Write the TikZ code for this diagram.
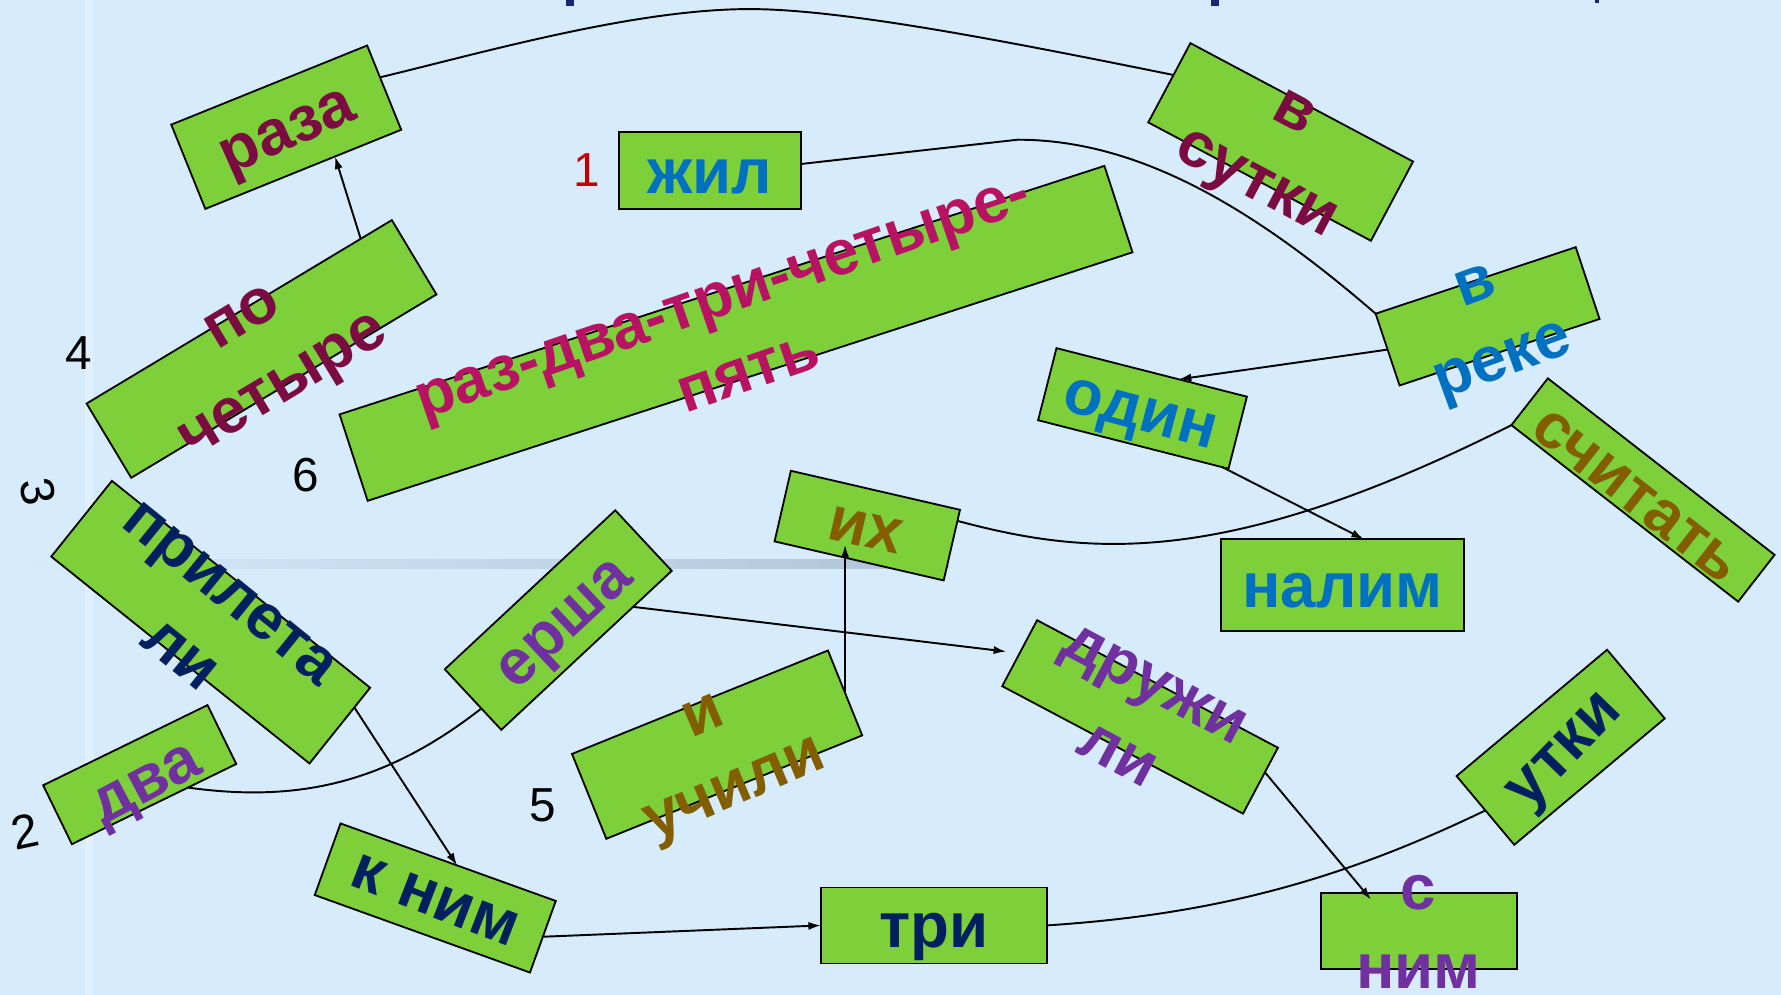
\documentclass[tikz,border=0pt]{standalone}
\usepackage{fontspec}
\setmainfont{Liberation Sans}
\usetikzlibrary{arrows.meta,calc}
\definecolor{bgc}{RGB}{214,235,252}
\definecolor{bandc}{RGB}{224,241,254}
\definecolor{barc}{RGB}{176,196,216}
\definecolor{boxg}{RGB}{126,208,59}
\definecolor{cmaroon}{RGB}{122,12,66}
\definecolor{cmagenta}{RGB}{184,18,98}
\definecolor{cblue}{RGB}{0,112,192}
\definecolor{cnavy}{RGB}{0,32,96}
\definecolor{cpurple}{RGB}{112,48,160}
\definecolor{cbrown}{RGB}{130,94,0}
\definecolor{ctitle}{RGB}{24,40,110}
\definecolor{cred}{RGB}{192,0,0}
\begin{document}
\begin{tikzpicture}[x=0.5pt,y=-0.5pt,
  box/.style={draw=black,line width=0.8pt,fill=boxg,inner sep=0pt,outer sep=0pt},
  wtext/.style={font=\bfseries\fontsize{28}{35}\selectfont,align=center,inner sep=0pt,text height=14.5pt,text depth=0pt},
  two/.style={text height=49.5pt},
  num/.style={font=\fontsize{21}{25}\selectfont,inner sep=0pt},
  conn/.style={line width=0.85pt},
  arr/.style={conn,-{Latex[length=5.5pt,width=3.6pt]}}]
\fill[bgc] (0,0) rectangle (1568,876);
\useasboundingbox (0,0) rectangle (1568,876);
% background details
\fill[bandc] (75,0) rectangle (82,876);
\shade[left color=bgc,right color=barc] (15,492.2) rectangle (835,500.4);
\fill[ctitle] (498,0) rectangle (505,5.3);
\fill[ctitle] (1066,0) rectangle (1073,5.3);
\fill[ctitle] (1404,0) rectangle (1408,2.3);
% boxes
\node[box,minimum width=93pt,minimum height=40pt,rotate=22] (raza) at (252,112) {};
\node[box,minimum width=80pt,minimum height=34pt] (zhil) at (625,150) {};
\node[box,minimum width=111pt,minimum height=39.5pt,rotate=-28] (vsutki) at (1127.5,125) {};
\node[box,minimum width=354pt,minimum height=40pt,rotate=18] (razdva) at (648,293.5) {};
\node[box,minimum width=156.75pt,minimum height=38.15pt,rotate=31] (pochetyre) at (230.25,307.25) {};
\node[box,minimum width=145.65pt,minimum height=42.7pt,rotate=-38.7] (prilet) at (185.5,547.75) {};
\node[box,minimum width=80.5pt,minimum height=28.85pt,rotate=26] (dva) at (123,682) {};
\node[box,minimum width=102.6pt,minimum height=36.45pt,rotate=43] (ersha) at (491.5,545.9) {};
\node[box,minimum width=76.4pt,minimum height=31.9pt,rotate=-13] (ikh) at (763.55,462.75) {};
\node[box,minimum width=121.5pt,minimum height=40.3pt,rotate=22] (iuchili) at (631.35,655.6) {};
\node[box,minimum width=86.5pt,minimum height=32.75pt,rotate=-14.3] (odin) at (1005.85,359.6) {};
\node[box,minimum width=92.8pt,minimum height=33.3pt,rotate=18.4] (vreke) at (1309.7,278.5) {};
\node[box,minimum width=126.5pt,minimum height=26.1pt,rotate=-37.9] (schitat) at (1446.5,431.4) {};
\node[box,minimum width=106.85pt,minimum height=40.25pt] (nalim) at (1182,515) {};
\node[box,minimum width=119.95pt,minimum height=32.85pt,rotate=-27.9] (druzh) at (1003.7,631.2) {};
\node[box,minimum width=86.5pt,minimum height=39.5pt,rotate=40] (utki) at (1374,657.9) {};
\node[box,minimum width=100.7pt,minimum height=33.5pt,rotate=-19.8] (knim) at (383.2,790.6) {};
\node[box,minimum width=99.4pt,minimum height=33.45pt] (tri) at (822.1,814.75) {};
\node[box,minimum width=86.25pt,minimum height=33.7pt] (snim) at (1249,819.7) {};
% texts
\node[wtext,text=cmaroon,rotate=24] (raza-t) at (253,116) {раза};
\node[wtext,text=cblue] (zhil-t) at (625,156) {жил};
\node[wtext,two,text=cmaroon,rotate=-28] (vsutki-t) at (1123,130) {в\\сутки};
\node[wtext,two,text=cmagenta,rotate=19] (razdva-t) at (648,296) {раз-два-три-четыре-\\пять};
\node[wtext,two,text=cmaroon,rotate=31] (pochetyre-t) at (231,309) {по\\четыре};
\node[wtext,two,text=cnavy,rotate=-39] (prilet-t) at (180,550) {прилета\\ли};
\node[wtext,text=cpurple,rotate=28] (dva-t) at (129,690) {два};
\node[wtext,text=cpurple,rotate=43] (ersha-t) at (497,549) {ерша};
\node[wtext,text=cbrown,rotate=-13] (ikh-t) at (762,467) {их};
\node[wtext,two,text=cbrown,rotate=23] (iuchili-t) at (633,662) {и\\учили};
\node[wtext,text=cblue,rotate=-15] (odin-t) at (1004,364) {один};
\node[wtext,two,text=cblue,rotate=20] (vreke-t) at (1311,284) {в\\реке};
\node[wtext,text=cbrown,rotate=-38] (schitat-t) at (1440,437) {считать};
\node[wtext,text=cblue] (nalim-t) at (1182,520) {налим};
\node[wtext,two,text=cpurple,rotate=-28] (druzh-t) at (1000,634) {дружи\\ли};
\node[wtext,text=cnavy,rotate=46] (utki-t) at (1377,661) {утки};
\node[wtext,text=cnavy,rotate=-21] (knim-t) at (383,793) {к ним};
\node[wtext,text=cnavy] (tri-t) at (822,820) {три};
\node[wtext,two,text=cpurple] (snim-t) at (1249,821) {с\\ним};
% numbers
\node[num,text=cred] (n1) at (517,150) {1};
\node[num] (n2) at (22,732) [rotate=12] {2};
\node[num] (n3) at (33,433) [rotate=-80] {3};
\node[num] (n4) at (69,311) {4};
\node[num] (n5) at (478,709) {5};
\node[num] (n6) at (269,418) {6};
% connectors
\coordinate (peak) at (660,8);
\coordinate (bend) at (896,123);
\draw[conn] (raza.6) .. controls (430,45) and (560,8) .. (peak) .. controls (740,8) and (880,35) .. (vsutki.176);
\draw[conn] (zhil.4) -- (bend) .. controls (1000,123) and (1100,180) .. (vreke.north west);
\draw[arr] (vreke.west) -- (odin.53);
\draw[arr] (odin.-22) -- (nalim.65);
\draw[conn] (ikh.16) .. controls (960,490) and (1080,500) .. (schitat.south west);
\draw[arr,shorten >=6pt] (ersha.-33) -- (druzh.west);
\draw[arr,shorten >=8.5pt] (iuchili.east) -- (iuchili.east |- ikh.center);
\draw[conn] (dva.-41) .. controls (270,708) and (345,685) .. (ersha.186);
\draw[arr] (prilet.8) -- (knim.76);
\draw[arr] (knim.east) -- (tri.west);
\draw[conn] (tri.east) .. controls (1070,805) and (1180,775) .. (utki.west);
\draw[arr] (druzh.4) -- ($(snim.north)+(-42,6)$);
\draw[arr] (pochetyre.17) -- (raza.-53);
\end{tikzpicture}
\end{document}
